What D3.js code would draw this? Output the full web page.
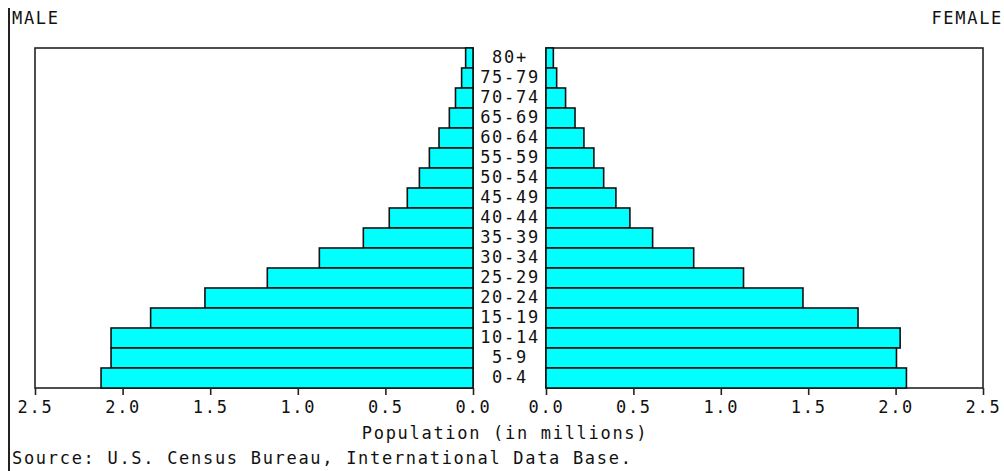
<!DOCTYPE html>
<html>
<head>
<meta charset="utf-8">
<script src="https://cdn.jsdelivr.net/npm/d3@7"></script>
<style>
  body { margin: 0; background: #fff; }
  svg text { font-family: "DejaVu Sans Mono", monospace; font-size: 17px; letter-spacing: 1.7px; fill: #111; }
</style>
</head>
<body>
<div id="chart"></div>
<script>
// age groups, top to bottom
const ages = ["80+", "75-79", "70-74", "65-69", "60-64", "55-59", "50-54", "45-49",
  "40-44", "35-39", "30-34", "25-29", "20-24", "15-19", "10-14", "5-9", "0-4"];
// population in millions
const male = [0.042, 0.065, 0.10, 0.135, 0.194, 0.249, 0.306, 0.375,
  0.478, 0.626, 0.877, 1.174, 1.53, 1.84, 2.066, 2.066, 2.123];
const female = [0.042, 0.061, 0.112, 0.166, 0.217, 0.274, 0.33, 0.40,
  0.48, 0.61, 0.845, 1.13, 1.47, 1.785, 2.026, 2.005, 2.062];
const tickVals = [0, 0.5, 1.0, 1.5, 2.0, 2.5];

const width = 1004, height = 471;
const plotTop = 48, plotBottom = 388;

const svg = d3.select("#chart").append("svg")
  .attr("width", width)
  .attr("height", height);

const xLeft = d3.scaleLinear().domain([2.5, 0]).range([35, 473]);
const xRight = d3.scaleLinear().domain([0, 2.5]).range([546, 983]);
const y = d3.scaleBand().domain(ages).range([plotTop, plotBottom]).padding(0);

// outer vertical rule on the left
svg.append("line")
  .attr("x1", 9).attr("x2", 9)
  .attr("y1", 8).attr("y2", height)
  .attr("stroke", "#222").attr("stroke-width", 2);

// panel frames
[xLeft, xRight].forEach(x => {
  const [a, b] = d3.extent(x.range());
  svg.append("rect")
    .attr("x", a).attr("y", plotTop)
    .attr("width", b - a).attr("height", plotBottom - plotTop)
    .attr("fill", "none")
    .attr("stroke", "#222").attr("stroke-width", 1.6);
});

// male bars
svg.append("g").selectAll("rect")
  .data(ages)
  .join("rect")
  .attr("x", (d, i) => xLeft(male[i]))
  .attr("y", d => y(d))
  .attr("width", (d, i) => xLeft(0) - xLeft(male[i]))
  .attr("height", y.bandwidth())
  .attr("fill", "#00ffff")
  .attr("stroke", "#111").attr("stroke-width", 1.6);

// female bars
svg.append("g").selectAll("rect")
  .data(ages)
  .join("rect")
  .attr("x", xRight(0))
  .attr("y", d => y(d))
  .attr("width", (d, i) => xRight(female[i]) - xRight(0))
  .attr("height", y.bandwidth())
  .attr("fill", "#00ffff")
  .attr("stroke", "#111").attr("stroke-width", 1.6);

// age labels in the middle
svg.append("g").selectAll("text")
  .data(ages)
  .join("text")
  .attr("x", 510)
  .attr("y", d => y(d) + 15)
  .attr("text-anchor", "middle")
  .text(d => d);

// axes
[xLeft, xRight].forEach(x => {
  const g = svg.append("g")
    .attr("transform", `translate(0,${plotBottom})`)
    .call(d3.axisBottom(x).tickValues(tickVals).tickFormat(d3.format(".1f"))
      .tickSize(7).tickPadding(6));
  g.select(".domain").remove();
  g.selectAll("line").attr("stroke", "#222").attr("stroke-width", 1.6);
  g.selectAll("text").attr("font-family", null).attr("font-size", null).attr("fill", null);
});

svg.append("text").attr("x", 12).attr("y", 24).text("MALE");
svg.append("text").attr("x", 1003).attr("y", 24).attr("text-anchor", "end").text("FEMALE");
svg.append("text").attr("x", 505).attr("y", 439).attr("text-anchor", "middle")
  .text("Population (in millions)");
svg.append("text").attr("x", 12).attr("y", 464)
  .text("Source: U.S. Census Bureau, International Data Base.");
</script>
</body>
</html>
